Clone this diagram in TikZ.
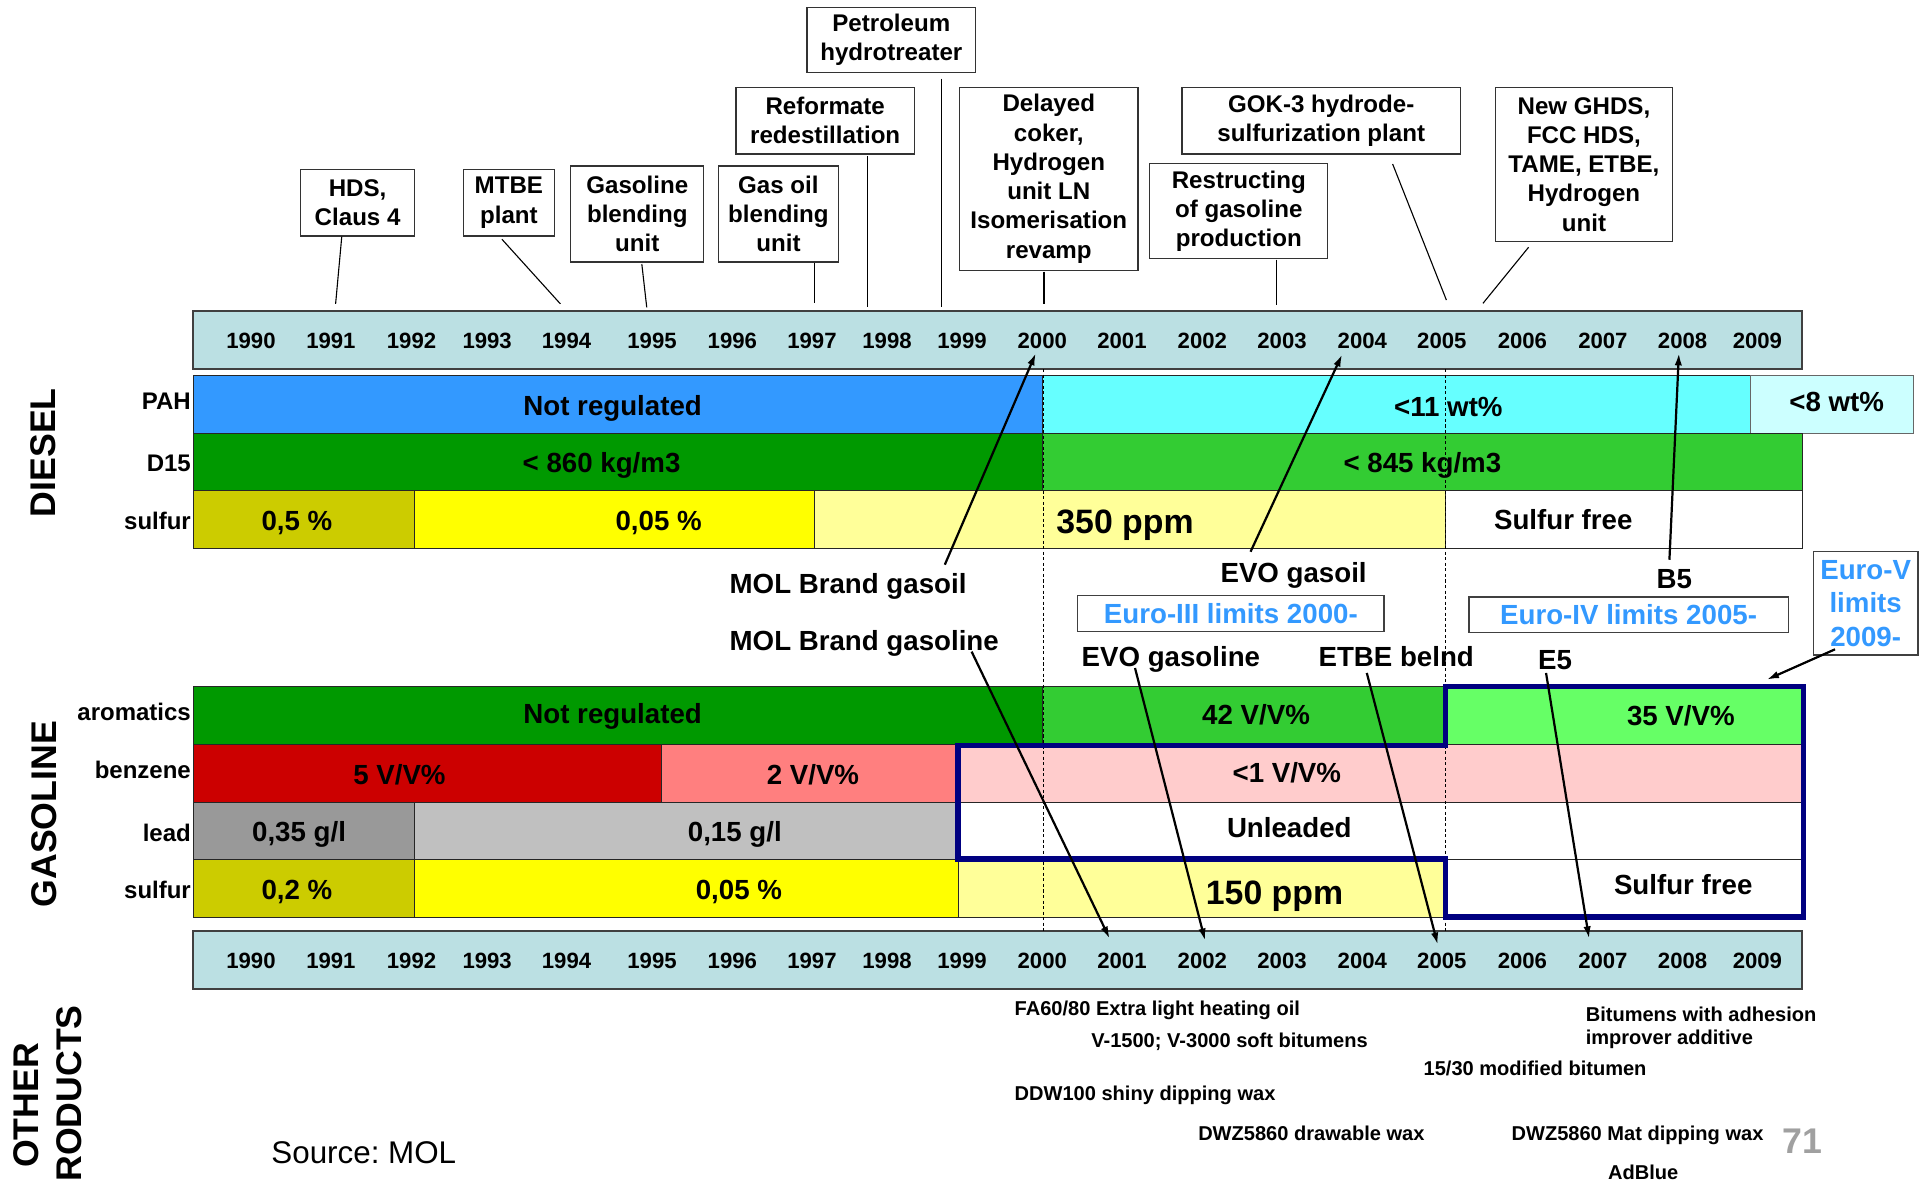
\documentclass[tikz,border=0pt]{standalone}
\usepackage{fontspec}
\setmainfont{Liberation Sans}
\usetikzlibrary{arrows.meta}
\frenchspacing
\definecolor{yearbar}{HTML}{BBE0E3}
\definecolor{barline}{HTML}{404040}
\definecolor{pahblue}{HTML}{3399FF}
\definecolor{pahcyan}{HTML}{66FFFF}
\definecolor{pahlight}{HTML}{CCFFFF}
\definecolor{dkgreen}{HTML}{009900}
\definecolor{mdgreen}{HTML}{33CC33}
\definecolor{ltgreen}{HTML}{66FF66}
\definecolor{oliveyel}{HTML}{CCCC00}
\definecolor{yel}{HTML}{FFFF00}
\definecolor{ltyel}{HTML}{FFFF99}
\definecolor{dkred}{HTML}{CC0000}
\definecolor{salmonc}{HTML}{FF7F7F}
\definecolor{ltpink}{HTML}{FFCCCC}
\definecolor{grone}{HTML}{999999}
\definecolor{grtwo}{HTML}{C0C0C0}
\definecolor{navyline}{HTML}{000080}
\definecolor{eublue}{HTML}{3399FF}
\definecolor{pagenum}{HTML}{A0A0A0}
\newcommand{\FntYear}{\fontsize{18}{21}\selectfont\bfseries}
\newcommand{\FntRow}{\fontsize{19.5}{23}\selectfont\bfseries}
\newcommand{\FntCell}{\fontsize{22.5}{27}\selectfont\bfseries}
\newcommand{\FntBig}{\fontsize{27.5}{33}\selectfont\bfseries}
\newcommand{\FntBox}{\fontsize{19.6}{23.8}\selectfont\bfseries}
\newcommand{\FntAnn}{\fontsize{22.5}{27.2}\selectfont\bfseries}
\newcommand{\FntProd}{\fontsize{16.3}{19.2}\selectfont\bfseries}
\newcommand{\FntSect}{\fontsize{29}{35}\selectfont\bfseries}
\newcommand{\FntSrc}{\fontsize{25.5}{30}\selectfont}
\newcommand{\FntPage}{\fontsize{29}{34}\selectfont\bfseries}
\begin{document}
\begin{tikzpicture}[x=1pt,y=-1pt,
  cell/.style={draw=black!85, line width=0.8pt},
  yearbarbox/.style={fill=yearbar, draw=barline, line width=1.5pt},
  yr/.style={font=\FntYear, inner sep=0pt, text height=12.9pt, text depth=0pt},
  rowlab/.style={font=\FntRow, inner sep=0pt, anchor=east, text height=14pt, text depth=0pt},
  celltxt/.style={font=\FntCell, inner sep=0pt, text height=16.1pt, text depth=0pt},
  bigtxt/.style={font=\FntBig, inner sep=0pt, text height=19.7pt, text depth=0pt},
  ann/.style={font=\FntAnn, inner sep=0pt, text height=16.1pt, text depth=0pt},
  plantbox/.style={draw=black!80, line width=1pt, font=\FntBox, align=center, inner sep=0pt, fill=white},
  eubox/.style={draw=black!75, line width=1pt, text=eublue, font=\FntAnn, inner sep=0pt, fill=white},
  prod/.style={font=\FntProd, inner sep=0pt, anchor=west, text height=11.7pt, text depth=0pt},
  sect/.style={font=\FntSect, rotate=90, inner sep=0pt},
  leader/.style={black, line width=0.9pt},
  pointer/.style={black, line width=1.8pt, -{Latex[length=10pt,width=6pt]}},
  yeardash/.style={black, line width=0.8pt, dash pattern=on 2.5pt off 2pt},
  navyframe/.style={navyline, line width=4.8pt, line join=miter}]
\useasboundingbox (0,0) rectangle (1568,960);
\clip (0,0) rectangle (1568,960);
\fill[white] (0,0) rectangle (1568,960);

% ---------- year bars ----------
\path[yearbarbox] (157,253) rectangle (1465,300);
\path[yearbarbox] (157,757) rectangle (1465,804);
\foreach \yv/\xv in {1990/204,1991/269,1992/334.5,1993/396,1994/460.5,1995/530,1996/595.3,1997/660,1998/721,1999/782,2000/847.2,2001/912,2002/977.3,2003/1042.1,2004/1107.4,2005/1172,2006/1237.5,2007/1302.9,2008/1367.7,2009/1428.5}{
  \node[yr] (ty\yv) at (\xv,277) {\yv};
  \node[yr] (by\yv) at (\xv,780.8) {\yv};
}

% ---------- diesel cells ----------
\path[cell, fill=pahblue]  (157,305) rectangle (847,352);
\path[cell, fill=pahcyan]  (847,305) rectangle (1423,352);
\path[cell, fill=pahlight, draw=black!60] (1423,305) rectangle (1555,352);
\path[cell, fill=dkgreen]  (157,352) rectangle (847,399);
\path[cell, fill=mdgreen]  (847,352) rectangle (1465,399);
\path[cell, fill=oliveyel] (157,399) rectangle (337,445.5);
\path[cell, fill=yel]      (337,399) rectangle (662,445.5);
\path[cell, fill=ltyel]    (662,399) rectangle (1175,445.5);
\path[cell, fill=white]    (1175,399) rectangle (1465,445.5);

% ---------- gasoline cells ----------
\path[cell, fill=dkgreen]  (157,558) rectangle (847,605);
\path[cell, fill=mdgreen]  (847,558) rectangle (1175,605);
\path[cell, fill=ltgreen]  (1175,558) rectangle (1465,605);
\path[cell, fill=dkred]    (157,605) rectangle (538,652);
\path[cell, fill=salmonc]  (538,605) rectangle (779,652);
\path[cell, fill=ltpink]   (779,605) rectangle (1465,652);
\path[cell, fill=grone]    (157,652) rectangle (337,699);
\path[cell, fill=grtwo]    (337,652) rectangle (779,699);
\path[cell, fill=white]    (779,652) rectangle (1465,699);
\path[cell, fill=oliveyel] (157,699) rectangle (337,745.5);
\path[cell, fill=yel]      (337,699) rectangle (779,745.5);
\path[cell, fill=ltyel]    (779,699) rectangle (1175,745.5);
\path[cell, fill=white]    (1175,699) rectangle (1465,745.5);

% ---------- dashed year markers ----------
\draw[yeardash] (848,300) -- (848,757);
\draw[yeardash] (1175,300) -- (1175,757);

% ---------- navy frame ----------
\draw[navyframe] (779,606) -- (1175,606) -- (1175,558) -- (1466,558) -- (1466,745.5) -- (1175,745.5) -- (1175,698.5) -- (779,698.5) -- cycle;

% ---------- section labels ----------
\node[sect, text height=20.8pt, text depth=0pt] (secdiesel) at (35,368) {DIESEL};
\node[sect, text height=20.8pt, text depth=0pt] (secgasoline) at (35.6,661.8) {GASOLINE};
\node[sect, align=center] (secother) at (38.5,898.5) {OTHER\\PRODUCTS};

% ---------- row labels ----------
\node[rowlab] (lpah) at (155.3,325.6) {PAH};
\node[rowlab] (ld15) at (155.3,376) {D15};
\node[rowlab] (ldsul) at (155.3,423.8) {sulfur};
\node[rowlab] (larom) at (155.3,578.5) {aromatics};
\node[rowlab] (lbenz) at (155.3,625.9) {benzene};
\node[rowlab] (llead) at (155.3,677) {lead};
\node[rowlab] (lgsul) at (155.3,723.5) {sulfur};

% ---------- diesel cell texts ----------
\node[celltxt] (dnr) at (498,329.6) {Not regulated};
\node[celltxt] (d11) at (1177.3,330.3) {<11 wt\%};
\node[celltxt] (d8) at (1493,326.5) {<8 wt\%};
\node[celltxt] (d860) at (489,376.2) {< 860 kg/m3};
\node[celltxt] (d845) at (1156.2,376) {< 845 kg/m3};
\node[celltxt] (ds05) at (241.4,423.4) {0,5 \%};
\node[celltxt] (ds005) at (535.4,423.4) {0,05 \%};
\node[bigtxt] (ds350) at (914.5,424) {350 ppm};
\node[celltxt] (dsfree) at (1270.7,422.7) {Sulfur free};

% ---------- gasoline cell texts ----------
\node[celltxt] (gnr) at (498,579.9) {Not regulated};
\node[celltxt] (g42) at (1021,580.8) {42 V/V\%};
\node[celltxt] (g35) at (1366.3,581.6) {35 V/V\%};
\node[celltxt] (g5) at (324.7,630) {5 V/V\%};
\node[celltxt] (g2) at (660.8,630) {2 V/V\%};
\node[celltxt] (g1) at (1046,628) {<1 V/V\%};
\node[celltxt] (g035) at (243.1,676) {0,35 g/l};
\node[celltxt] (g015) at (597.3,676) {0,15 g/l};
\node[celltxt] (gunl) at (1048,673) {Unleaded};
\node[celltxt] (gs02) at (241.4,723.2) {0,2 \%};
\node[celltxt] (gs005) at (600.6,723.2) {0,05 \%};
\node[bigtxt] (gs150) at (1036,725.5) {150 ppm};
\node[celltxt] (gsfree) at (1368.2,719) {Sulfur free};

% ---------- plant boxes ----------
\node[plantbox, minimum width=92.6, minimum height=54.2] (hds) at (290.7,164.7) {HDS,\\Claus 4};
\node[plantbox, minimum width=73.7, minimum height=54.2] (mtbe) at (413.65,164.7) {MTBE\\plant};
\node[plantbox, minimum width=108, minimum height=78] (gasblend) at (518,174) {Gasoline\\blending\\unit};
\node[plantbox, minimum width=97.5, minimum height=78] (oilblend) at (632.75,174) {Gas oil\\blending\\unit};
\node[plantbox, minimum width=144.9, minimum height=54.2] (reform) at (670.75,98.1) {Reformate\\redestillation};
\node[plantbox, minimum width=137, minimum height=53] (petro) at (724.5,32.5) {Petroleum\\hydrotreater};
\node[plantbox, minimum width=145, minimum height=148.7] (delayed) at (852.5,145.35) {Delayed\\coker,\\Hydrogen\\unit LN\\Isomerisation\\revamp};
\node[plantbox, minimum width=226.6, minimum height=54.2] (gok) at (1074,98.1) {GOK-3 hydrode-\\sulfurization plant};
\node[plantbox, minimum width=144.7, minimum height=77.5] (restr) at (1006.95,171.55) {Restructing\\of gasoline\\production};
\node[plantbox, minimum width=144.2, minimum height=125.2] (ghds) at (1287.5,133.6) {New GHDS,\\FCC HDS,\\TAME, ETBE,\\Hydrogen\\unit};

% leader lines from plant boxes to the year bar
\coordinate (hdsA) at (277.8,192.4);   \coordinate (hdsB) at (272.8,247);
\coordinate (mtbeA) at (408,194.5);    \coordinate (mtbeB) at (455.5,247);
\coordinate (gbA) at (521.7,214.6);    \coordinate (gbB) at (525.7,249.8);
\coordinate (obA) at (662,213.5);      \coordinate (obB) at (662,246.6);
\coordinate (refA) at (705.4,126.8);   \coordinate (refB) at (705.4,249.8);
\coordinate (petA) at (765,64);        \coordinate (petB) at (765,249.8);
\coordinate (delA) at (848.6,220.8);   \coordinate (delB) at (848.6,247.4);
\coordinate (gokA) at (1132,133.3);    \coordinate (gokB) at (1175.7,243.9);
\coordinate (resA) at (1037.6,211);    \coordinate (resB) at (1037.6,248.2);
\coordinate (ghA) at (1242.5,201);     \coordinate (ghB) at (1205.4,246.6);
\draw[leader] (hdsA) -- (hdsB);
\draw[leader] (mtbeA) -- (mtbeB);
\draw[leader] (gbA) -- (gbB);
\draw[leader] (obA) -- (obB);
\draw[leader] (refA) -- (refB);
\draw[leader] (petA) -- (petB);
\draw[leader] (delA) -- (delB);
\draw[leader] (gokA) -- (gokB);
\draw[leader] (resA) -- (resB);
\draw[leader] (ghA) -- (ghB);

% ---------- annotations ----------
\node[ann, anchor=west] (molgasoil) at (592.9,474.4) {MOL Brand gasoil};
\node[ann, anchor=west] (molgasoline) at (592.9,521) {MOL Brand gasoline};
\node[ann] (evogasoil) at (1051.5,465.8) {EVO gasoil};
\node[ann] (bfive) at (1361,470.5) {B5};
\node[ann, anchor=west] (evogasoline) at (879,533.8) {EVO gasoline};
\node[ann, anchor=west] (etbe) at (1071.6,533.8) {ETBE belnd};
\node[ann] (efive) at (1264,536) {E5};

\node[eubox, minimum width=249, minimum height=29, text height=16.1pt, text depth=0pt] (euiii) at (1000.5,498.6) {Euro-III limits 2000-};
\node[eubox, minimum width=259.6, minimum height=29, text height=16.1pt, text depth=0pt] (euiv) at (1323.8,499.8) {Euro-IV limits 2005-};
\node[eubox, align=center, minimum width=85, minimum height=84] (euv) at (1516.5,490.4) {Euro-V\\limits\\2009-};

% pointer arrows
\coordinate (pA1) at (768,459);      \coordinate (pB1) at (842,287);
\coordinate (pA2) at (1016.5,448.5); \coordinate (pB2) at (1091,288);
\coordinate (pA3) at (1357,455);     \coordinate (pB3) at (1364.7,287);
\coordinate (pA4) at (1491.6,527.8); \coordinate (pB4) at (1436,552.5);
\coordinate (pA5) at (789.8,529.7);  \coordinate (pB5) at (902,763);
\coordinate (pA6) at (922.6,543);    \coordinate (pB6) at (979.6,764.7);
\coordinate (pA7) at (1111,547);     \coordinate (pB7) at (1168.7,768);
\coordinate (pA8) at (1256.7,547);   \coordinate (pB8) at (1291.7,763);
\draw[pointer] (pA1) -- (pB1);
\draw[pointer] (pA2) -- (pB2);
\draw[pointer] (pA3) -- (pB3);
\draw[pointer] (pA4) -- (pB4);
\draw[pointer] (pA5) -- (pB5);
\draw[pointer] (pA6) -- (pB6);
\draw[pointer] (pA7) -- (pB7);
\draw[pointer] (pA8) -- (pB8);

% ---------- other products ----------
\node[prod] (pfa) at (824.6,820) {FA60/80 Extra light heating oil};
\node[prod] (pv) at (886.9,846) {V-1500; V-3000 soft bitumens};
\node[prod] (pddw) at (824.6,889) {DDW100 shiny dipping wax};
\node[prod] (pdwz) at (973.8,921.2) {DWZ5860 drawable wax};
\node[font=\FntProd, inner sep=0pt, anchor=west, align=left] (pbit) at (1288.8,835.4) {Bitumens with adhesion\\improver additive};
\node[prod] (pmod) at (1157,868.4) {15/30 modified bitumen};
\node[prod] (pmat) at (1228.5,921.2) {DWZ5860 Mat dipping wax};
\node[prod] (padb) at (1306.9,952.8) {AdBlue};

\node[font=\FntPage, text=pagenum, inner sep=0pt, text height=21pt, text depth=0pt] (pnum) at (1465,927.5) {71};
\node[font=\FntSrc, inner sep=0pt, anchor=west, text height=18.3pt, text depth=0pt] (src) at (220.4,936.2) {Source: MOL};
\end{tikzpicture}
\end{document}
